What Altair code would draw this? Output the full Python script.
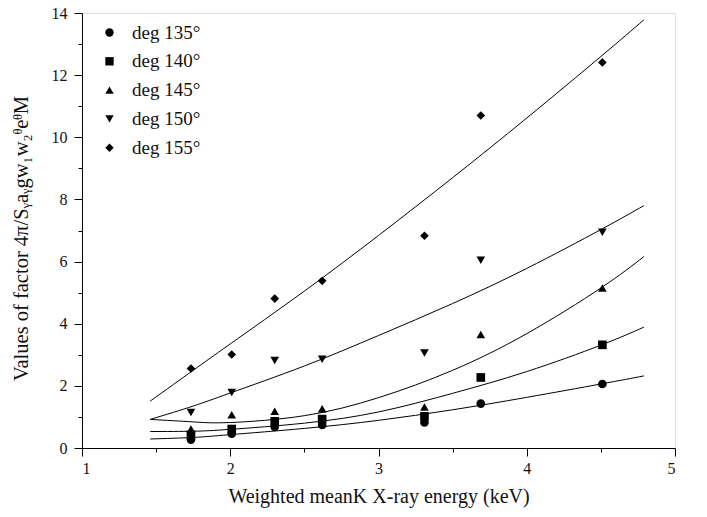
import altair as alt
import pandas as pd

# ---- data ----
energies = [1.735, 2.01, 2.30, 2.62, 3.31, 3.69, 4.51]
series_names = ["deg 135°", "deg 140°", "deg 145°", "deg 150°", "deg 155°"]
deg135 = [0.27, 0.46, 0.68, 0.74, 0.82, 1.43, 2.06]
deg140 = [0.42, 0.61, 0.86, 0.93, 1.02, 2.27, 3.32]
deg145 = [0.61, 1.07, 1.18, 1.26, 1.32, 3.65, 5.15]
deg150 = [1.14, 1.79, 2.82, 2.86, 3.06, 6.04, 6.94]
deg155 = [2.56, 3.01, 4.81, 5.38, 6.83, 10.70, 12.41]

# fitted curves
fit_x = [1.46, 1.75, 2.0, 2.5, 3.0, 3.5, 4.0, 4.5, 4.79]
fit135 = [0.29, 0.34, 0.43, 0.63, 0.89, 1.23, 1.63, 2.06, 2.32]
fit140 = [0.53, 0.54, 0.60, 0.80, 1.16, 1.76, 2.46, 3.31, 3.89]
fit145 = [0.92, 0.84, 0.82, 1.04, 1.62, 2.50, 3.68, 5.15, 6.16]
fit150 = [0.92, 1.35, 1.77, 2.64, 3.62, 4.65, 5.78, 7.03, 7.80]
fit155 = [1.51, 2.50, 3.35, 5.05, 6.84, 8.70, 10.62, 12.60, 13.78]

shapes = ["circle", "square", "triangle-up", "triangle-down", "diamond"]

pts_rows = []
for name, vals in zip(series_names, [deg135, deg140, deg145, deg150, deg155]):
    for e, v in zip(energies, vals):
        pts_rows.append({"energy": e, "value": v, "series": name})
pts = pd.DataFrame(pts_rows)

fit_rows = []
for name, vals in zip(series_names, [fit135, fit140, fit145, fit150, fit155]):
    for e, v in zip(fit_x, vals):
        fit_rows.append({"energy": e, "value": v, "series": name})
fits = pd.DataFrame(fit_rows)

FONT = "Liberation Serif"

x_scale = alt.Scale(domain=[1, 5], nice=False, zero=False)
y_scale = alt.Scale(domain=[0, 14], nice=False)

x_axis = alt.Axis(
    values=[1, 1.5, 2, 2.5, 3, 3.5, 4, 4.5, 5],
    labelExpr="datum.value % 1 === 0 ? format(datum.value, 'd') : ''",
    tickSize={"condition": {"test": "datum.value % 1 === 0", "value": 8}, "value": 4},
    title="Weighted meanK X-ray energy (keV)",
    grid=False,
    domainColor="black",
    tickColor="black",
    labelColor="#111",
    titleColor="#111",
    labelFont=FONT,
    titleFont=FONT,
    labelFontSize=16,
    titleFontSize=20,
    titleFontWeight="normal",
    labelPadding=4,
    titlePadding=10,
    labelOverlap=False,
)
y_axis = alt.Axis(
    values=list(range(0, 15)),
    labelExpr="datum.value % 2 === 0 ? format(datum.value, 'd') : ''",
    tickSize={"condition": {"test": "datum.value % 2 === 0", "value": 8}, "value": 4},
    title="Values of factor 4π/Sᵧaᵧgw₁w₂ᶿeᶿM",
    grid=False,
    domainColor="black",
    tickColor="black",
    labelColor="#111",
    titleColor="#111",
    labelFont=FONT,
    titleFont=FONT,
    labelFontSize=16,
    titleFontSize=20.5,
    titleFontWeight="normal",
    labelPadding=7,
    titleX=-51,
    titleY=225,
    labelOverlap=False,
)

lines = alt.Chart(fits).mark_line(
    color="black", strokeWidth=1, interpolate="natural"
).encode(
    x=alt.X("energy:Q", scale=x_scale, axis=x_axis),
    y=alt.Y("value:Q", scale=y_scale, axis=y_axis),
    detail="series:N",
)

points = alt.Chart(pts).mark_point(filled=True, opacity=1, size=75).encode(
    x=alt.X("energy:Q", scale=x_scale, axis=x_axis),
    y=alt.Y("value:Q", scale=y_scale, axis=y_axis),
    shape=alt.Shape(
        "series:N",
        scale=alt.Scale(domain=series_names, range=shapes),
        legend=alt.Legend(
            title=None,
            orient="none",
            legendX=18,
            legendY=10,
            labelFont=FONT,
            labelFontSize=19,
            labelColor="#111",
            symbolFillColor="black",
            symbolStrokeWidth=0,
            symbolSize=70,
            labelOffset=13,
            rowPadding=8.8,
            padding=0,
        ),
    ),
    color=alt.value("black"),
)

chart = (
    alt.layer(lines, points)
    .properties(
        width=593,
        height=435,
        autosize=alt.AutoSizeParams(type="none"),
        padding={"left": 74, "top": 5, "right": 20, "bottom": 60},
    )
    .configure_view(stroke=None)
    .configure(background="white")
)

chart.save("out.html", embed_options={"renderer": "svg", "actions": False})
